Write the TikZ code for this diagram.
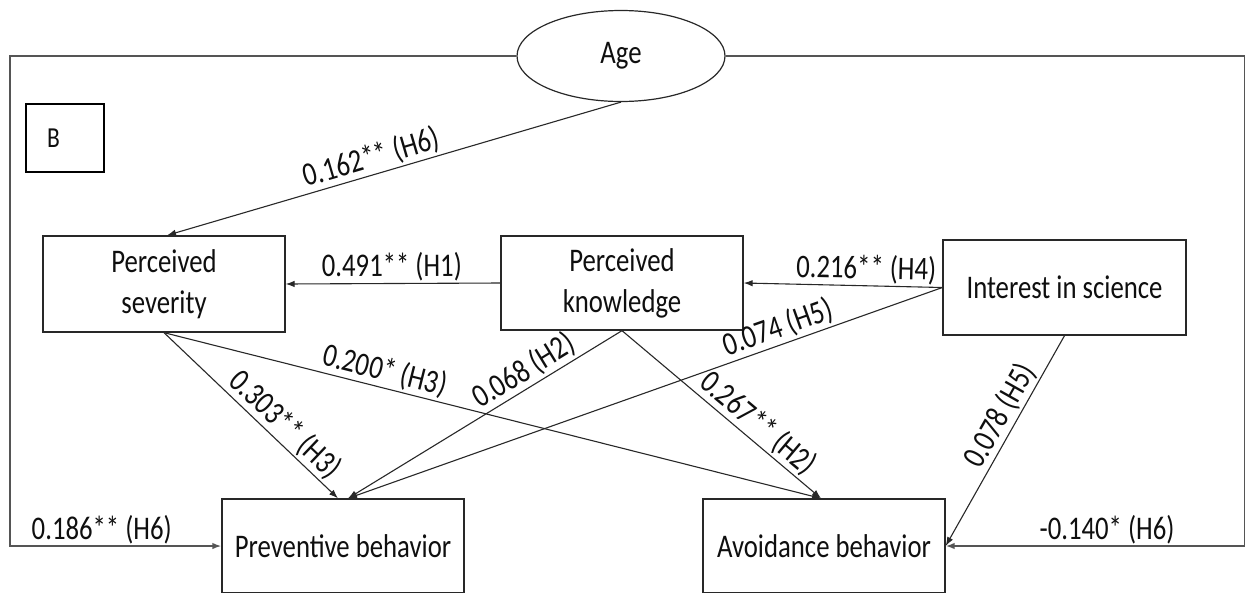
\documentclass[tikz,border=0pt]{standalone}
\usepackage{fontspec}
\setmainfont[FakeStretch=0.81]{Carlito}
\usetikzlibrary{arrows.meta,shapes.geometric}
\definecolor{ln}{RGB}{40,40,40}
\definecolor{loopc}{RGB}{85,85,85}
\definecolor{txt}{RGB}{15,15,15}
\begin{document}
\begin{tikzpicture}[x=1pt,y=-1pt,
  every node/.style={font=\fontsize{33}{41}\selectfont, text=txt},
  box/.style={draw=ln, line width=1.3pt, minimum width=242pt, inner sep=0pt, align=center},
  arr/.style={draw=ln, line width=1.1pt, -{Latex[length=9pt,width=6.5pt]}},
  lab/.style={sloped, above, inner sep=2pt},
  loopl/.style={draw=loopc, line width=1.6pt, -{Latex[length=9pt,width=6.5pt]}}]
\useasboundingbox (0,0) rectangle (1246,592);
\fill[white] (0,0) rectangle (1246,592);

% nodes
\node[draw=ln, line width=1.2pt, ellipse, minimum width=208pt, minimum height=91pt, inner sep=0pt] (age) at (621,56) {Age};
\node[draw=black, line width=1.5pt, minimum width=78pt, minimum height=68pt, text width=36pt, inner xsep=21pt, inner ysep=0pt, align=left, font=\fontsize{29}{34}\selectfont] (bb) at (65,138) {B};
\node[box, minimum height=96pt] (sev) at (164,284) {Perceived\\severity};
\node[box, minimum height=94pt] (kn) at (622,283) {Perceived\\knowledge};
\node[box, minimum width=243pt, minimum height=95pt] (is) at (1064.5,287.5) {Interest in science};
\node[box, minimum height=94pt] (prev) at (343,546) {Preventive behavior};
\node[box, minimum height=94pt] (av) at (824,546) {Avoidance behavior};

\coordinate (lc) at (10,56);
\coordinate (rc) at (1244.5,56);

% outer loop
\draw[loopl] (age.west) -- (lc) |- node[pos=0.717, above, inner sep=1pt]{0.186** (H6)} (prev.west);
\draw[loopl] (age.east) -- (rc) |- node[pos=0.73, above, inner sep=1pt]{-0.140* (H6)} (av.east);

% paths
\draw[arr] (age.south) -- node[lab, pos=0.54]{0.162** (H6)} ([xshift=3pt]sev.north);
\draw[arr] (kn.west) -- node[lab, pos=0.505]{0.491** (H1)} (sev.east);
\draw[arr] (is.west) -- node[lab, pos=0.385]{0.216** (H4)} (kn.east);
\draw[arr] (is.west) -- node[lab, pos=0.267]{0.074 (H5)} ([xshift=5pt]prev.north);
\draw[arr] (kn.south) -- node[lab, pos=0.326]{0.068 (H2)} ([xshift=5pt]prev.north);
\draw[arr] (kn.south) -- node[lab, pos=0.63]{0.267** (H2)} ([xshift=-3pt]av.north);
\draw[arr] (sev.south) -- node[lab, pos=0.63]{0.303** (H3)} ([xshift=-5pt]prev.north);
\draw[arr] (sev.south) -- node[lab, pos=0.33]{0.200* (H3)} ([xshift=-3pt]av.north);
\draw[arr] (is.south) -- node[lab, pos=0.42]{0.078 (H5)} (av.east);
\end{tikzpicture}
\end{document}
